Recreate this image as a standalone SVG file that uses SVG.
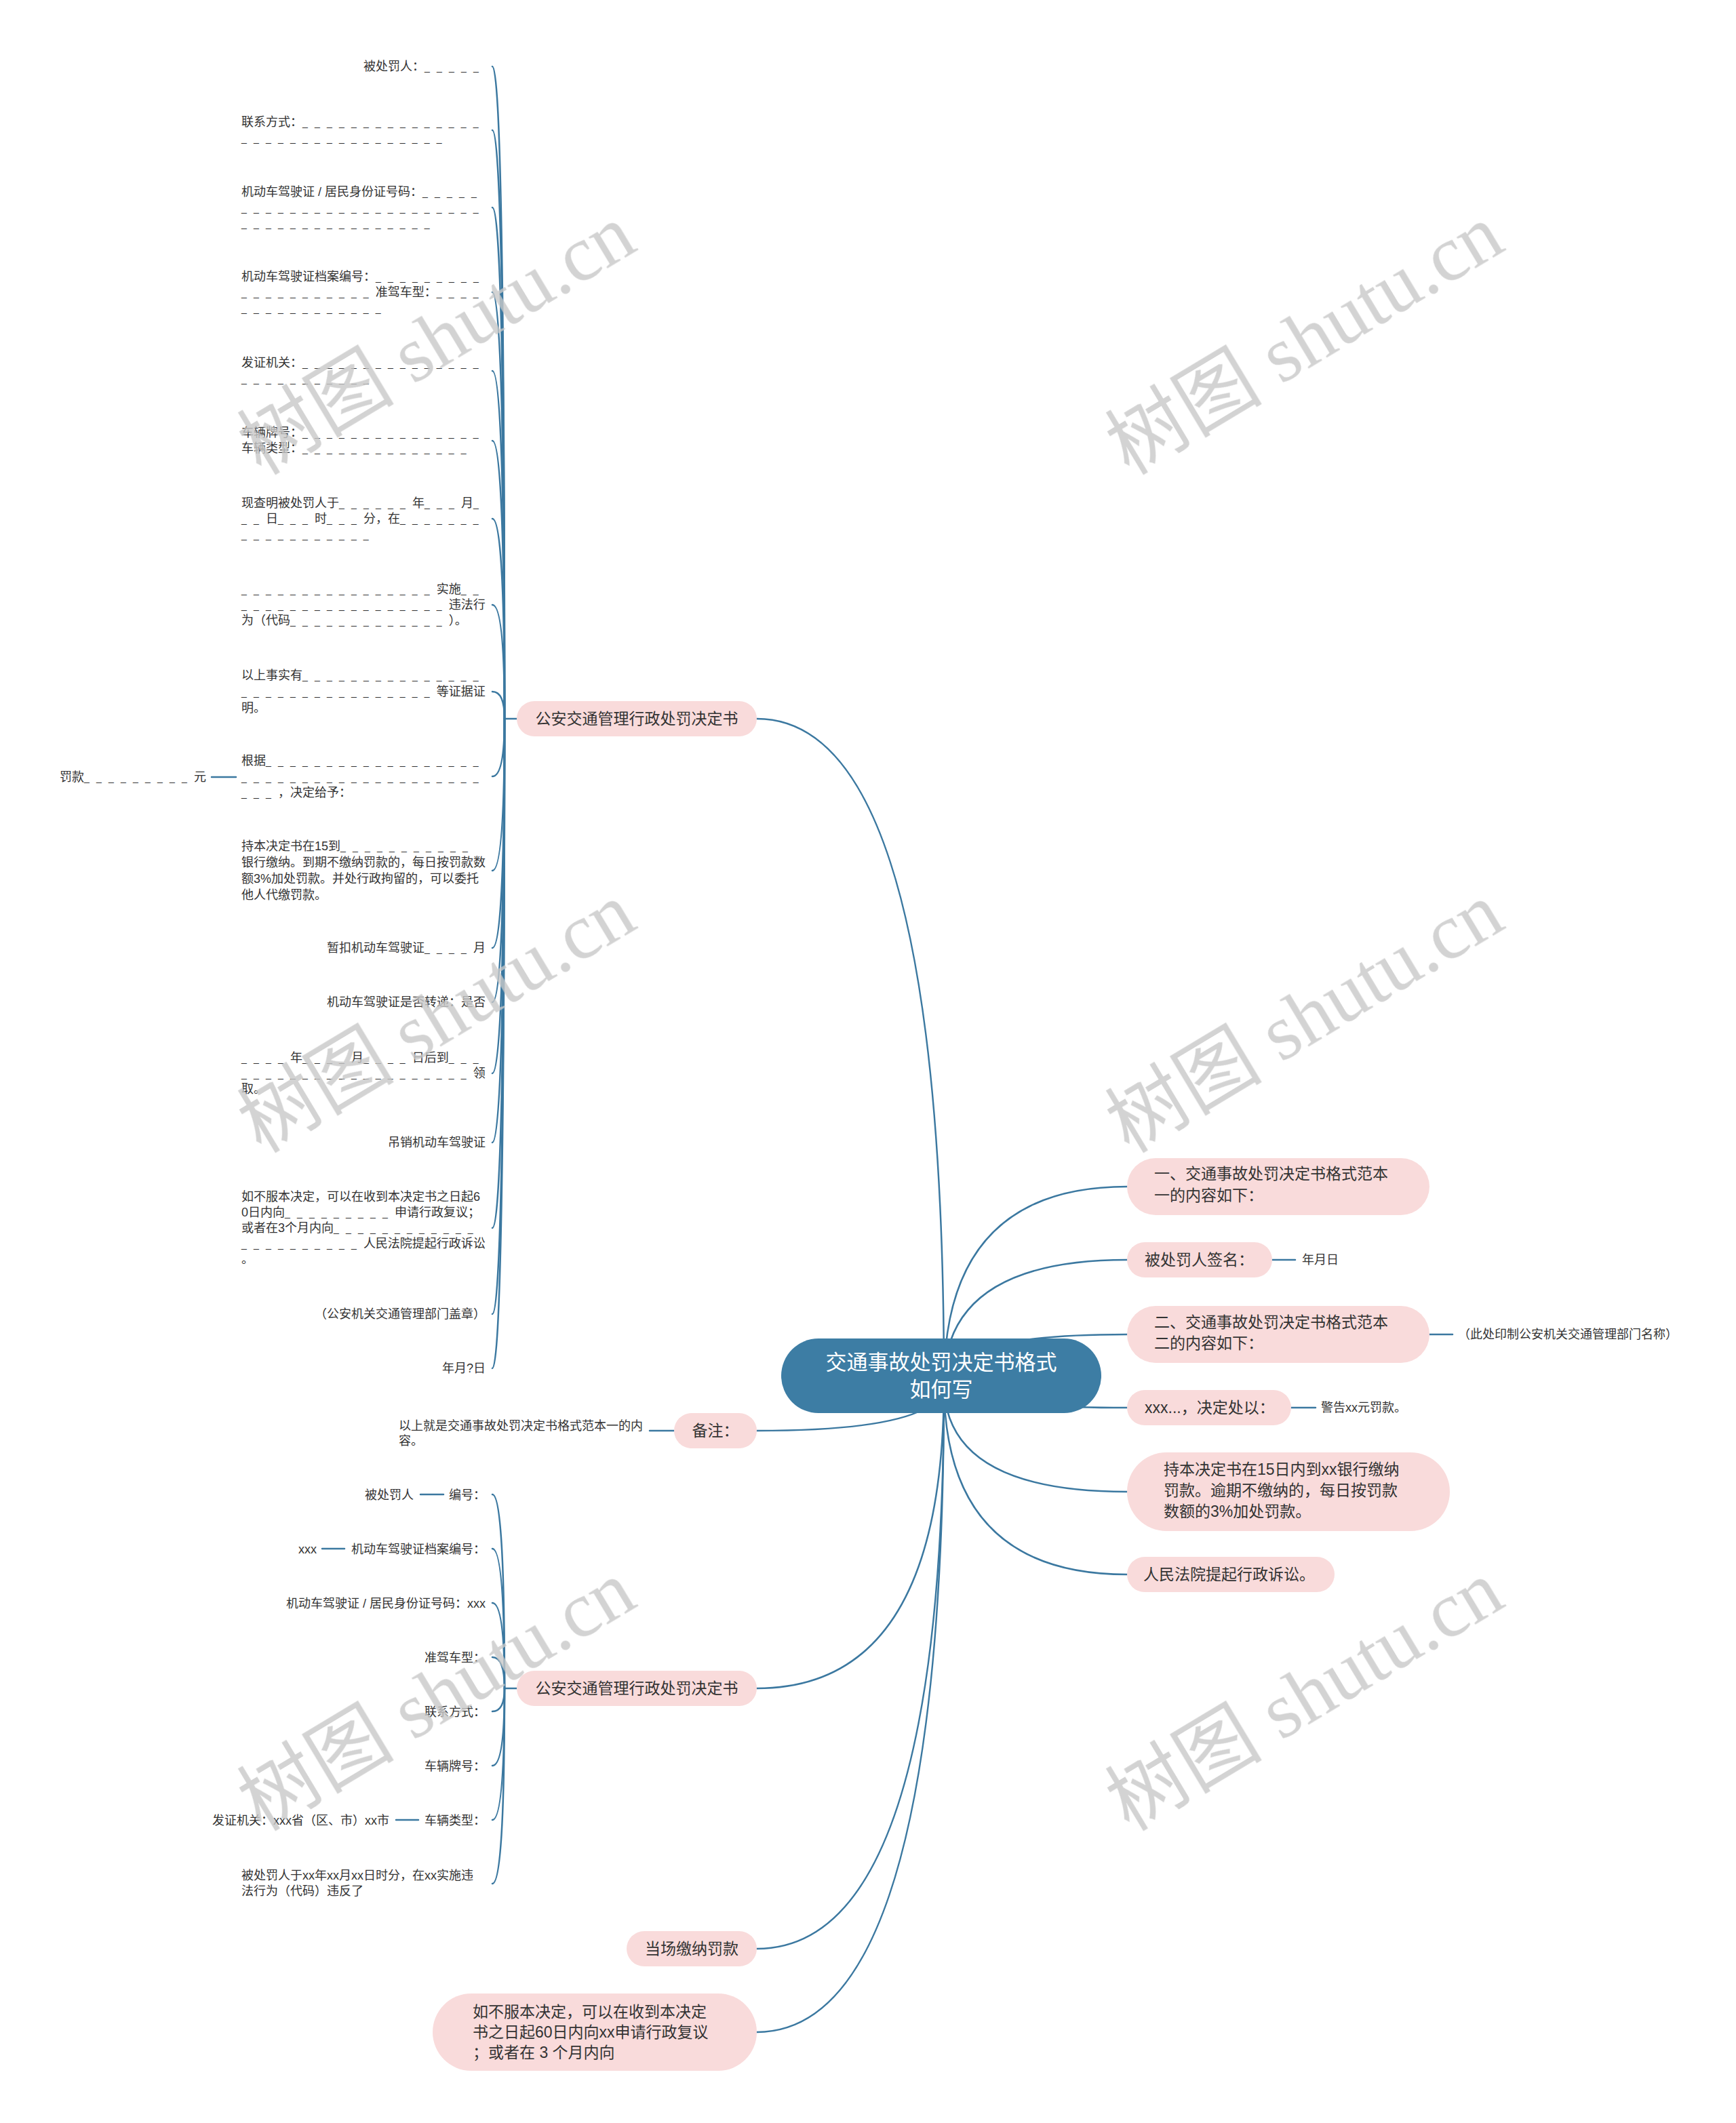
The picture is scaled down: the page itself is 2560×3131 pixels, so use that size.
<svg xmlns="http://www.w3.org/2000/svg" width="2560" height="3131" viewBox="0 0 2560 3131">
<style>
.lf{font-family:"Liberation Sans","Noto Sans CJK SC",sans-serif;font-size:18px;fill:#333}
.u{font-size:14px;letter-spacing:10.2px}
.pk{fill:#f9dbdb}
.pt{font-family:"Liberation Sans","Noto Sans CJK SC",sans-serif;font-size:23px;fill:#333}
.rt{font-family:"Liberation Sans","Noto Sans CJK SC",sans-serif;font-size:31px;fill:#fff}
.cn{fill:none;stroke:#3b78a0;stroke-width:2.5;stroke-linecap:round}
.wm{font-family:"Liberation Serif","Noto Sans CJK SC",serif;font-size:116px;fill:#c8c8c8;opacity:0.8}
</style>
<rect width="2560" height="3131" fill="#fff"/>
<g id="connectors" class="cn">
<path d="M1392 2040Q1392 1060 1116 1060"/>
<path d="M1392 2040Q1392 1750 1662 1750"/>
<path d="M1392 2040Q1392 1858 1662 1858"/>
<path d="M1392 2040Q1392 1968 1662 1968"/>
<path d="M1392 2040Q1392 2076 1662 2076"/>
<path d="M1392 2040Q1392 2200 1662 2200"/>
<path d="M1392 2040Q1392 2322 1662 2322"/>
<path d="M1392 2040Q1392 2110 1116 2110"/>
<path d="M1392 2040Q1392 2490 1116 2490"/>
<path d="M1392 2040Q1392 2874 1116 2874"/>
<path d="M1392 2040Q1392 2997 1116 2997"/>
<path d="M1876 1858H1910"/>
<path d="M2108 1968H2142"/>
<path d="M1904 2076H1940"/>
<path d="M994 2110H958"/>
<path d="M348 1146H312"/>
<path d="M654 2204H620"/>
<path d="M508 2284H475"/>
<path d="M617 2684H584"/>
<path d="M762 1060H744"/>
<path d="M744 1060Q744 98 726 98"/>
<path d="M744 1060Q744 192 726 192"/>
<path d="M744 1060Q744 306 726 306"/>
<path d="M744 1060Q744 431 726 431"/>
<path d="M744 1060Q744 547 726 547"/>
<path d="M744 1060Q744 650 726 650"/>
<path d="M744 1060Q744 765 726 765"/>
<path d="M744 1060Q744 892 726 892"/>
<path d="M744 1060Q744 1020 726 1020"/>
<path d="M744 1060Q744 1145 726 1145"/>
<path d="M744 1060Q744 1284 726 1284"/>
<path d="M744 1060Q744 1398 726 1398"/>
<path d="M744 1060Q744 1478 726 1478"/>
<path d="M744 1060Q744 1583 726 1583"/>
<path d="M744 1060Q744 1685 726 1685"/>
<path d="M744 1060Q744 1811 726 1811"/>
<path d="M744 1060Q744 1938 726 1938"/>
<path d="M744 1060Q744 2018 726 2018"/>
<path d="M762 2490H744"/>
<path d="M744 2490Q744 2204 726 2204"/>
<path d="M744 2490Q744 2284 726 2284"/>
<path d="M744 2490Q744 2364 726 2364"/>
<path d="M744 2490Q744 2444 726 2444"/>
<path d="M744 2490Q744 2524 726 2524"/>
<path d="M744 2490Q744 2604 726 2604"/>
<path d="M744 2490Q744 2684 726 2684"/>
<path d="M744 2490Q744 2778 726 2778"/>
</g>
<g id="root">
<rect x="1152" y="1974" width="472" height="110" rx="55" fill="#3d7da4"/>
<text class="rt" x="1388" y="2020" text-anchor="middle">交通事故处罚决定书格式</text>
<text class="rt" x="1388" y="2060" text-anchor="middle">如何写</text>
</g>
<g id="n1"><rect class="pk" x="1662" y="1708" width="446" height="84" rx="42"/>
<text class="pt" x="1702" y="1739">一、交通事故处罚决定书格式范本</text><text class="pt" x="1702" y="1771">一的内容如下：</text></g>
<g id="n2"><rect class="pk" x="1662" y="1832" width="214" height="52" rx="26"/>
<text class="pt" x="1688" y="1866">被处罚人签名：</text></g>
<g id="n2a"><text class="lf" x="1920" y="1864">年月日</text></g>
<g id="n3"><rect class="pk" x="1662" y="1926" width="446" height="84" rx="42"/>
<text class="pt" x="1702" y="1958">二、交通事故处罚决定书格式范本</text><text class="pt" x="1702" y="1989">二的内容如下：</text></g>
<g id="n3a"><text class="lf" x="2150" y="1974">（此处印制公安机关交通管理部门名称）</text></g>
<g id="n4"><rect class="pk" x="1662" y="2050" width="242" height="52" rx="26"/>
<text class="pt" x="1688" y="2084">xxx...，决定处以：</text></g>
<g id="n4a"><text class="lf" x="1948" y="2082">警告xx元罚款。</text></g>
<g id="n5"><rect class="pk" x="1662" y="2142" width="476" height="116" rx="58"/>
<text class="pt" x="1716" y="2175">持本决定书在15日内到xx银行缴纳</text><text class="pt" x="1716" y="2206">罚款。逾期不缴纳的，每日按罚款</text><text class="pt" x="1716" y="2237">数额的3%加处罚款。</text></g>
<g id="n6"><rect class="pk" x="1662" y="2296" width="306" height="52" rx="26"/>
<text class="pt" x="1686" y="2330">人民法院提起行政诉讼。</text></g>
<g id="a"><rect class="pk" x="762" y="1034" width="354" height="52" rx="26"/>
<text class="pt" x="939" y="1068" text-anchor="middle">公安交通管理行政处罚决定书</text></g>
<g id="b"><rect class="pk" x="994" y="2084" width="122" height="52" rx="26"/>
<text class="pt" x="1055" y="2118" text-anchor="middle">备注：</text></g>
<g id="b1"><text class="lf" x="588" y="2109">以上就是交通事故处罚决定书格式范本一的内</text><text class="lf" x="588" y="2131">容。</text></g>
<g id="c"><rect class="pk" x="762" y="2464" width="354" height="52" rx="26"/>
<text class="pt" x="939" y="2498" text-anchor="middle">公安交通管理行政处罚决定书</text></g>
<g id="d"><rect class="pk" x="924" y="2848" width="192" height="52" rx="26"/>
<text class="pt" x="1020" y="2882" text-anchor="middle">当场缴纳罚款</text></g>
<g id="e"><rect class="pk" x="638" y="2940" width="478" height="114" rx="57"/>
<text class="pt" x="697" y="2975">如不服本决定，可以在收到本决定</text><text class="pt" x="697" y="3005">书之日起60日内向xx申请行政复议</text><text class="pt" x="697" y="3035">；或者在 3 个月内向</text></g>
<g id="a-leaves" class="lf">
<g id="a1"><text x="536" y="104">被处罚人：<tspan class="u">_____</tspan></text></g>
<g id="a2"><text x="356" y="186">联系方式：<tspan class="u">_______________</tspan></text><text x="356" y="209"><tspan class="u">_________________</tspan></text></g>
<g id="a3"><text x="356" y="289">机动车驾驶证 / 居民身份证号码：<tspan class="u">_____</tspan></text><text x="356" y="312"><tspan class="u">____________________</tspan></text><text x="356" y="335"><tspan class="u">________________</tspan></text></g>
<g id="a4"><text x="356" y="414">机动车驾驶证档案编号：<tspan class="u">_________</tspan></text><text x="356" y="437"><tspan class="u">___________</tspan>准驾车型：<tspan class="u">____</tspan></text><text x="356" y="460"><tspan class="u">____________</tspan></text></g>
<g id="a5"><text x="356" y="541">发证机关：<tspan class="u">_______________</tspan></text><text x="356" y="564"><tspan class="u">___________</tspan></text></g>
<g id="a6"><text x="356" y="644">车辆牌号：<tspan class="u">_______________</tspan></text><text x="356" y="667">车辆类型：<tspan class="u">______________</tspan></text></g>
<g id="a7"><text x="356" y="748">现查明被处罚人于<tspan class="u">______</tspan>年<tspan class="u">___</tspan>月<tspan class="u">_</tspan></text><text x="356" y="771"><tspan class="u">__</tspan>日<tspan class="u">___</tspan>时<tspan class="u">___</tspan>分，在<tspan class="u">_______</tspan></text><text x="356" y="794"><tspan class="u">___________</tspan></text></g>
<g id="a8"><text x="356" y="875"><tspan class="u">________________</tspan>实施<tspan class="u">__</tspan></text><text x="356" y="898"><tspan class="u">_________________</tspan>违法行</text><text x="356" y="921">为（代码<tspan class="u">_____________</tspan>）。</text></g>
<g id="a9"><text x="356" y="1002">以上事实有<tspan class="u">_______________</tspan></text><text x="356" y="1026"><tspan class="u">________________</tspan>等证据证</text><text x="356" y="1050">明。</text></g>
<g id="a10"><text x="356" y="1128">根据<tspan class="u">__________________</tspan></text><text x="356" y="1152"><tspan class="u">____________________</tspan></text><text x="356" y="1175"><tspan class="u">___</tspan>，决定给予：</text></g>
<g id="a10a"><text x="88" y="1152">罚款<tspan class="u">_________</tspan>元</text></g>
<g id="a11"><text x="356" y="1254">持本决定书在15到<tspan class="u">___________</tspan></text><text x="356" y="1278">银行缴纳。到期不缴纳罚款的，每日按罚款数</text><text x="356" y="1302">额3%加处罚款。并处行政拘留的，可以委托</text><text x="356" y="1326">他人代缴罚款。</text></g>
<g id="a12"><text x="482" y="1404">暂扣机动车驾驶证<tspan class="u">____</tspan>月</text></g>
<g id="a13"><text x="482" y="1484">机动车驾驶证是否转递：是否</text></g>
<g id="a14"><text x="356" y="1566"><tspan class="u">____</tspan>年<tspan class="u">____</tspan>月<tspan class="u">____</tspan>日后到<tspan class="u">___</tspan></text><text x="356" y="1589"><tspan class="u">___________________</tspan>领</text><text x="356" y="1612">取。</text></g>
<g id="a15"><text x="572" y="1691">吊销机动车驾驶证</text></g>
<g id="a16"><text x="356" y="1771">如不服本决定，可以在收到本决定书之日起6</text><text x="356" y="1794">0日内向<tspan class="u">_________</tspan>申请行政复议；</text><text x="356" y="1817">或者在3个月内向<tspan class="u">____________</tspan></text><text x="356" y="1840"><tspan class="u">__________</tspan>人民法院提起行政诉讼</text><text x="356" y="1863">。</text></g>
<g id="a17"><text x="464" y="1944">（公安机关交通管理部门盖章）</text></g>
<g id="a18"><text x="652" y="2024">年月?日</text></g>
</g>
<g id="c-leaves" class="lf">
<g id="c1"><text x="662" y="2211">编号：</text></g>
<g id="c1a"><text x="538" y="2211">被处罚人</text></g>
<g id="c2"><text x="518" y="2291">机动车驾驶证档案编号：</text></g>
<g id="c2a"><text x="440" y="2291">xxx</text></g>
<g id="c3"><text x="422" y="2371">机动车驾驶证 / 居民身份证号码：xxx</text></g>
<g id="c4"><text x="626" y="2451">准驾车型：</text></g>
<g id="c5"><text x="626" y="2531">联系方式：</text></g>
<g id="c6"><text x="626" y="2611">车辆牌号：</text></g>
<g id="c7"><text x="626" y="2691">车辆类型：</text></g>
<g id="c7a"><text x="313" y="2691">发证机关：xxx省（区、市）xx市</text></g>
<g id="c8"><text x="356" y="2772">被处罚人于xx年xx月xx日时分，在xx实施违</text><text x="356" y="2795">法行为（代码）违反了</text></g>
</g>
<g id="watermarks" class="wm">
<text transform="translate(385 702) rotate(-31)">树图 shutu.cn</text>
<text transform="translate(1665 702) rotate(-31)">树图 shutu.cn</text>
<text transform="translate(385 1702) rotate(-31)">树图 shutu.cn</text>
<text transform="translate(1665 1702) rotate(-31)">树图 shutu.cn</text>
<text transform="translate(385 2702) rotate(-31)">树图 shutu.cn</text>
<text transform="translate(1665 2702) rotate(-31)">树图 shutu.cn</text>
</g>
</svg>
